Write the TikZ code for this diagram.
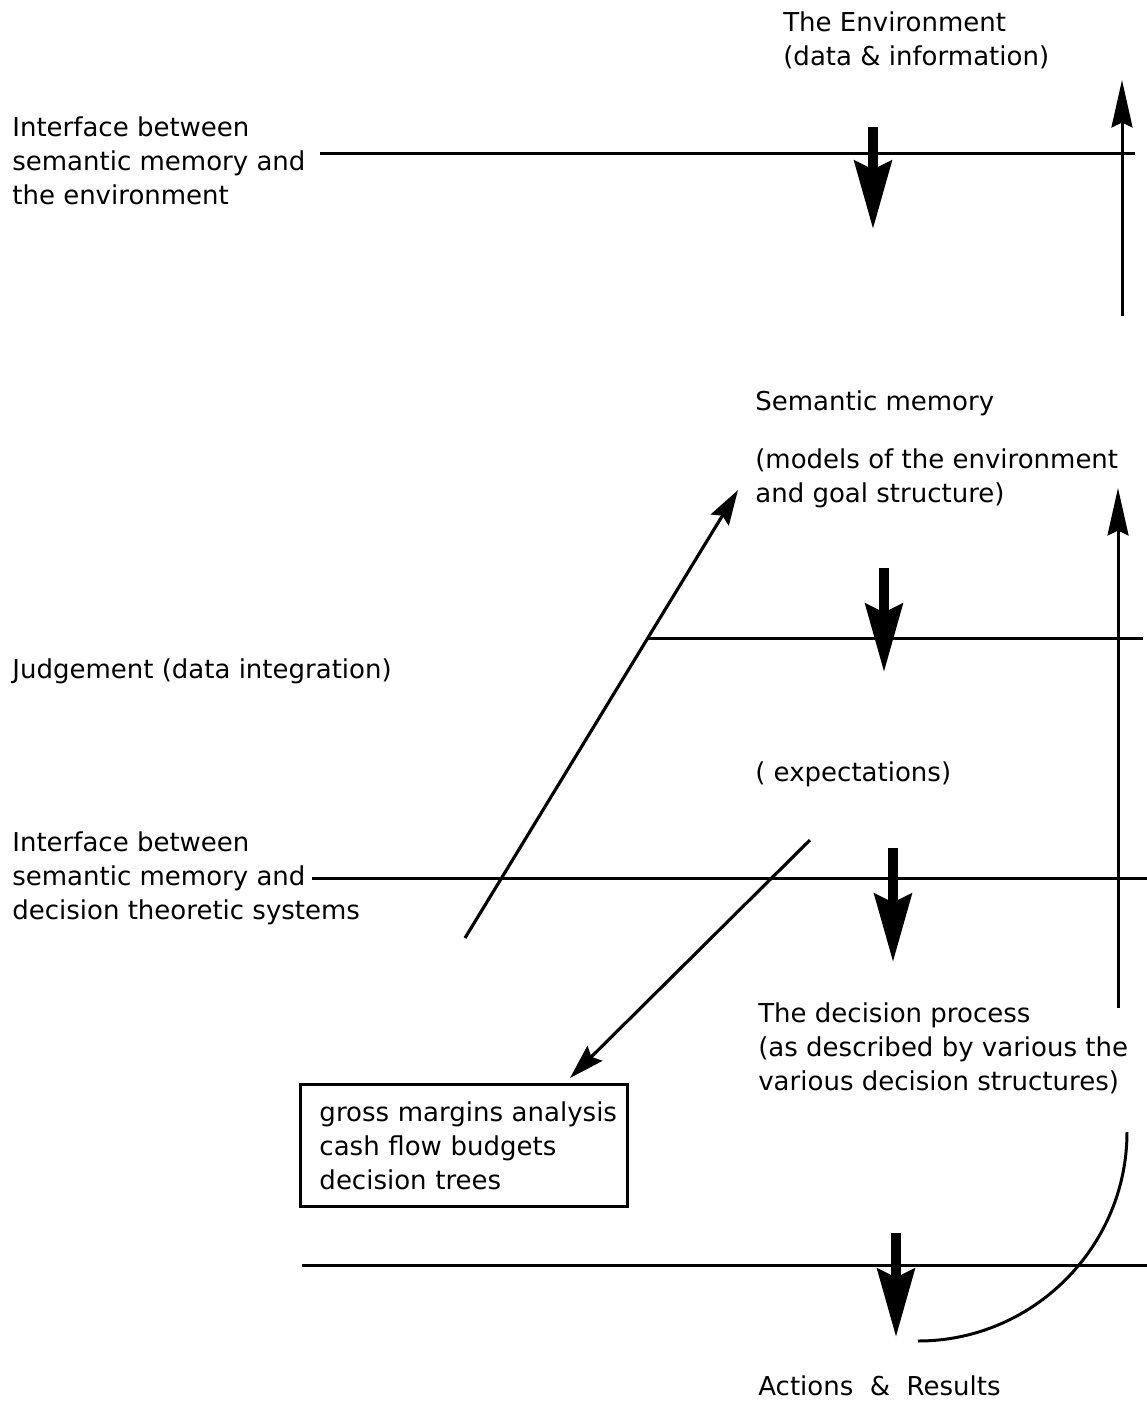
\documentclass[tikz,border=0pt]{standalone}
\usepackage{fontspec}
\setmainfont{DejaVu Sans}
\usepackage{tikz}
\usetikzlibrary{
    arrows.meta,
    positioning,
    calc
}
\tikzset{
    % Base style for all text labels (anchored on the last baseline)
    label base/.style={
        font=\fontsize{14.8}{19.35}\selectfont,
        align=left,
        inner sep=0pt,
        anchor=base west,
    },
    % Horizontal level lines
    level line/.style={
        line width=1.7pt,
    },
    % Thick downward flow arrows
    flow arrow/.style={
        -{Stealth[length=1.36cm, width=0.74cm, inset=0.17cm]},
        line width=5.4pt,
    },
    % Thin feedback arrows
    thin arrow/.style={
        -{Stealth[length=0.95cm, width=0.42cm, inset=0.1cm]},
        line width=1.7pt,
    },
    % Diagonal arrows
    slant arrow/.style={
        -{Stealth[length=0.7cm, width=0.42cm, inset=0.1cm]},
        line width=1.8pt,
    },
    % Box of methods
    method box/.style={
        font=\fontsize{14.8}{19.35}\selectfont,
        draw,
        line width=1.7pt,
        anchor=north west,
        minimum width=6.54cm,
        minimum height=2.44cm,
        text width=5.78cm,
        inner xsep=0.38cm,
        align=left,
    },
}

\begin{document}
\begin{tikzpicture}[x=0.02cm, y=-0.02cm]
    \useasboundingbox (0,0) rectangle (1147,1401);

    % Texts on the right
    \node (env) [label base] at (783,65) {The Environment\\(data \& information)};
    \node (semmem) [label base] at (755,410) {Semantic memory};
    \node (models) [label base] at (755,502) {(models of the environment\\and goal structure)};
    \node (expect) [label base] at (755,781) {( expectations)};
    \node (decision) [label base] at (758,1090) {The decision process\\(as described by various the\\various decision structures)};
    \node (actions) [label base] at (758,1395) {Actions \ \& \ Results};

    % Texts on the left
    \node (iface_env) [label base] at (12,204) {Interface between\\semantic memory and\\the environment};
    \node (judge) [label base] at (12,678) {Judgement (data integration)};
    \node (iface_dec) [label base] at (12,919) {Interface between\\semantic memory and\\decision theoretic systems};
    \node (methods) [method box] at (299,1083) {\mbox{gross margins analysis}\\cash flow budgets\\decision trees};

    % Level lines
    \coordinate (l1a) at (320,153);
    \coordinate (l1b) at (1135,153);
    \coordinate (l2a) at (648,638);
    \coordinate (l2b) at (1143,638);
    \coordinate (l3a) at (312,878);
    \coordinate (l3b) at (1147,878);
    \coordinate (l4a) at (302,1265);
    \coordinate (l4b) at (1147,1265);
    \draw [level line] (l1a) -- (l1b);
    \draw [level line] (l2a) -- (l2b);
    \draw [level line] (l3a) -- (l3b);
    \draw [level line] (l4a) -- (l4b);

    % Flow arrows
    \coordinate (f1a) at (873,127);
    \coordinate (f1b) at (873,229);
    \coordinate (f2a) at (884,568);
    \coordinate (f2b) at (884,672);
    \coordinate (f3a) at (893,848);
    \coordinate (f3b) at (893,962);
    \coordinate (f4a) at (896,1233);
    \coordinate (f4b) at (896,1337);
    \draw [flow arrow] (f1a) -- (f1b);
    \draw [flow arrow] (f2a) -- (f2b);
    \draw [flow arrow] (f3a) -- (f3b);
    \draw [flow arrow] (f4a) -- (f4b);

    % Feedback arrows
    \coordinate (up1a) at (1122,316);
    \coordinate (up1b) at (1122,80);
    \coordinate (up2a) at (1118,1008);
    \coordinate (up2b) at (1118,488);
    \draw [thin arrow] (up1a) -- (up1b);
    \draw [thin arrow] (up2a) -- (up2b);

    % Diagonal arrows
    \coordinate (judge_from) at (465,938);
    \coordinate (judge_to) at (738,490);
    \coordinate (expect_from) at (810,840);
    \coordinate (expect_to) at (570,1078);
    \draw [slant arrow] (judge_from) -- (judge_to);
    \draw [slant arrow] (expect_from) -- (expect_to);

    % Curve to actions
    \coordinate (arc_top) at (1127,1132);
    \coordinate (arc_end) at (918,1341);
    \draw [level line] (arc_top) .. controls (1127,1247) and (1033,1341) .. (arc_end);
\end{tikzpicture}
\end{document}
